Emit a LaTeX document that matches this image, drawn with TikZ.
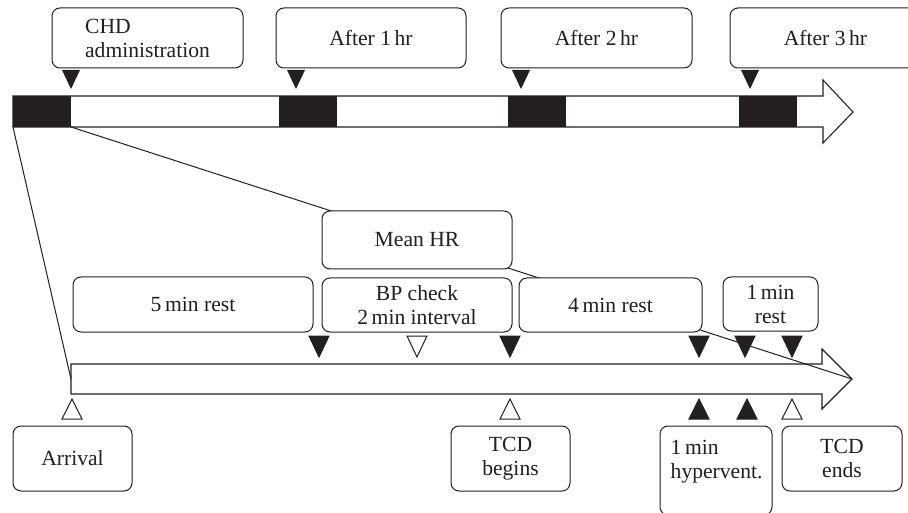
\documentclass[tikz,border=0pt]{standalone}
\usepackage{fontspec}
\setmainfont{Liberation Serif}
\usepackage{tikz}
\usetikzlibrary{positioning}
\definecolor{ink}{HTML}{231F20}

\begin{document}
\begin{tikzpicture}[x=1pt, y=-1pt,
  box/.style={draw=ink, line width=1pt, rounded corners=8pt, fill=white,
    align=center, inner sep=0pt, text=ink, font=\fontsize{21.6}{24}\selectfont},
  lbl/.style={inner sep=0pt, align=left, text=ink, font=\fontsize{21.6}{24}\selectfont},
  bar/.style={draw=ink, line width=1.1pt, fill=white, line join=miter},
  blk/.style={fill=ink, minimum width=58pt, minimum height=31pt, inner sep=0pt, outer sep=0pt},
  zoomline/.style={ink, line width=1pt},
  tick/.style={draw=ink, line width=1pt, line join=miter}]
  \useasboundingbox (0,0) rectangle (908,513);

  % Top timeline (hours)
  \draw[bar] (13,96) -- (823,96) -- (823,80) -- (853,112) -- (823,143)
    -- (823,127) -- (13,127) -- cycle;
  \foreach \x/\name in {13/blk0, 279/blk1, 508/blk2, 739/blk3}
    \node[blk, anchor=north west] (\name) at (\x,96) {};

  % Lower timeline (one session)
  \draw[bar] (71,364) -- (822,364) -- (822,349) -- (852,379) -- (822,409)
    -- (822,394) -- (71,394) -- cycle;
  \coordinate (start) at (71,379);
  \coordinate (tip) at (852,379);

  % Zoom lines from the first block to the session
  \draw[zoomline] (blk0.south west) -- (start);
  \draw[zoomline] (blk0.south east) -- (tip);

  % Callouts above the hours
  \node[box, minimum width=191pt, minimum height=60pt, align=left] (chd) at (147.5,38) {CHD\\administration};
  \node[box, minimum width=190pt, minimum height=60pt] (hr1) at (371,38) {After 1\,hr};
  \node[box, minimum width=191pt, minimum height=60pt] (hr2) at (596.5,38) {After 2\,hr};
  \node[box, minimum width=191pt, minimum height=60pt] (hr3) at (825.5,38) {After 3\,hr};
  \foreach \x in {71,296,521,750}
    \fill[ink] (\x,89) -- ++(-9,-19) -- ++(18,0) -- cycle;

  % Phases above the session
  \node[box, minimum width=240pt, minimum height=55pt] (rest5) at (193,304.5) {5\,min rest};
  \node[box, minimum width=190pt, minimum height=58pt] (meanhr) at (417,240) {Mean HR};
  \node[box, minimum width=190pt, minimum height=54pt, below=8pt of meanhr] (bp) {BP check\\2\,min interval};
  \node[box, minimum width=183pt, minimum height=54pt, right=6pt of bp] (rest4) {4\,min rest};
  \node[box, minimum width=95pt, minimum height=54pt] (rest1) at (770.5,304) {1\,min\\rest};

  % Marks above the session
  \foreach \x/\f in {319/ink, 417/white, 510/ink, 699/ink, 745/ink, 792/ink}
    \draw[tick, fill=\f] (\x,357) -- ++(-10,-21) -- ++(20,0) -- cycle;

  % Marks below the session
  \foreach \x/\f in {72/white, 510/white, 699/ink, 747/ink, 792/white}
    \draw[tick, fill=\f] (\x,399) -- ++(-10,20) -- ++(20,0) -- cycle;

  % Events below the session
  \node[box, minimum width=119pt, minimum height=65pt] (arrival) at (72.5,458.5) {Arrival};
  \node[box, minimum width=119pt, minimum height=65pt] (tcdbegin) at (510.5,458.5) {TCD\\begins};
  \node[box, minimum width=112pt, minimum height=89pt] (hyper) at (716,470.5) {};
  \node[lbl, anchor=north west] (hypertext) at ([xshift=11pt, yshift=-14pt]hyper.north west) {1\,min\\hypervent.};
  \node[box, minimum width=120pt, minimum height=65pt] (tcdend) at (842,458.5) {TCD\\ends};
\end{tikzpicture}
\end{document}
